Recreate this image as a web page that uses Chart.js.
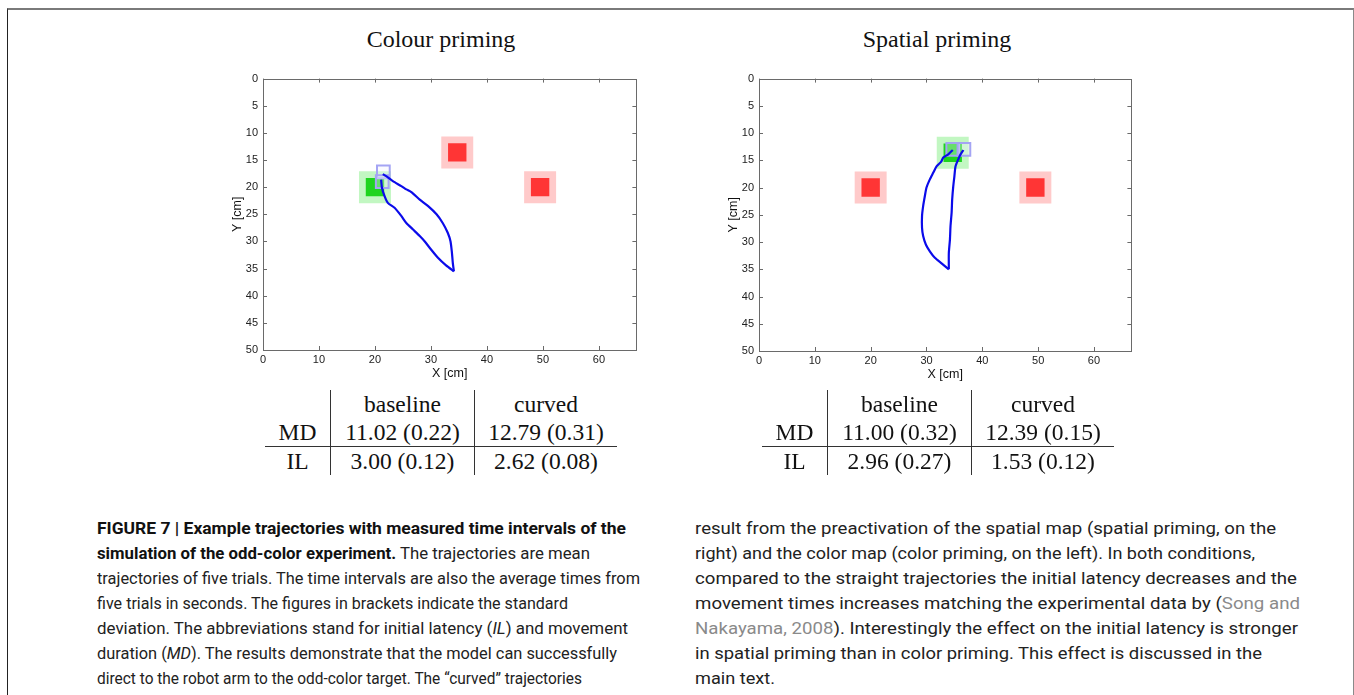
<!DOCTYPE html>
<html>
<head>
<meta charset="utf-8">
<script src="https://cdn.jsdelivr.net/npm/chart.js@4.4.1/dist/chart.umd.min.js"></script>
<style>
  body { margin: 0; width: 1354px; height: 695px; background: #fff; position: relative; overflow: hidden; }
  .frame { position: absolute; left: 7px; top: 8px; width: 1345px; height: 700px;
           border-top: 2px solid #7a7a7a; border-left: 1px solid #222; border-right: 1px solid #8a8a8a; }
  .ptitle { position: absolute; top: 26px; font-family: 'Liberation Serif', serif; font-size: 24px;
            color: #111; transform: translateX(-50%); white-space: nowrap; }
  canvas { position: absolute; }
  table.res { position: absolute; top: 390px; border-collapse: collapse;
              font-family: 'Liberation Serif', serif; font-size: 23.5px; color: #111; }
  table.res td { height: 28px; line-height: 28px; padding: 0; text-align: center; white-space: nowrap; }
  table.res td.sep { border-left: 1px solid #333; }
  table.res tr.il td { border-top: 1px solid #333; }
  .cap { position: absolute; top: 516px; font-family: Roboto, sans-serif; font-size: 16.5px; line-height: 25px;
         color: #222; white-space: nowrap; }
  .cap .ln { display: block; height: 25px; }
  .cap .lw { display: inline-block; transform-origin: 0 0; }
  .cap b { color: #111; }
  .cite { color: #8a8a8a; }
</style>
</head>
<body>
<div class="frame"></div>
<div class="ptitle" style="left:441px">Colour priming</div>
<div class="ptitle" style="left:937px">Spatial priming</div>
<canvas id="cColour"></canvas>
<canvas id="cSpatial"></canvas>
<table class="res" id="tColour" style="left:265px"></table>
<table class="res" id="tSpatial" style="left:762px"></table>
<div class="cap" id="capLeft" style="left:97px"></div>
<div class="cap" id="capRight" style="left:695px"></div>

<script>
// axes
const xTicks = [0, 10, 20, 30, 40, 50, 60];
const yTicks = [0, 5, 10, 15, 20, 25, 30, 35, 40, 45, 50];
const xMax = 66.7;
const yMax = 50;

// targets (same places in both panels, the odd-colour one differs)
const targetX = [20, 34.7, 49.5];
const targetY = [20, 13.6, 20];
const colourOdd = [true, false, false];
const spatialOdd = [false, true, false];

// colour priming trajectories
const colourStartX = [21.5, 21.3];
const colourStartY = [17.2, 19.0];
const colourCurvedX = [21.4, 22.3, 23.2, 24.7, 25.6, 26.5, 28.0, 29.5, 31.0, 32.1, 33.0, 33.5, 33.75, 33.9, 34.1];
const colourCurvedY = [17.6, 18.2, 18.9, 19.8, 20.4, 20.9, 22.3, 23.5, 25.0, 26.6, 28.4, 30.0, 32.1, 33.9, 35.5];
const colourBaseX = [21.1, 21.25, 21.7, 22.3, 23.5, 24.7, 25.6, 26.8, 28.0, 28.9, 29.8, 31.25, 32.7, 34.1];
const colourBaseY = [18.6, 20.1, 21.6, 22.9, 23.8, 25.3, 26.6, 27.8, 29.0, 30.0, 31.2, 33.0, 34.4, 35.5];

// spatial priming trajectories
const spatialStartX = [34.7, 36.7];
const spatialStartY = [13.0, 13.0];
const spatialCurvedX = [34.7, 33.9, 33.0, 32.6, 31.8, 31.2, 30.6, 30.0, 29.7, 29.4, 29.2, 29.2, 29.4, 29.9, 30.6, 31.5, 32.7, 34.0];
const spatialCurvedY = [13.1, 13.9, 14.5, 15.3, 16.1, 17.3, 18.5, 20.0, 21.6, 23.4, 25.2, 27.4, 28.9, 30.5, 31.7, 32.9, 33.9, 35.0];
const spatialBaseX = [36.6, 36.1, 35.7, 35.2, 35.0, 34.8, 34.6, 34.5, 34.3, 34.2, 34.0, 34.0];
const spatialBaseY = [13.1, 13.9, 14.8, 16.1, 17.9, 19.7, 22.2, 24.6, 27.1, 29.5, 32.0, 35.0];

// result tables: mean (sd) in seconds
const rowNames = ['MD', 'IL'];
const colNames = ['baseline', 'curved'];
const colourMD = ['11.02 (0.22)', '12.79 (0.31)'];
const colourIL = ['3.00 (0.12)', '2.62 (0.08)'];
const spatialMD = ['11.00 (0.32)', '12.39 (0.15)'];
const spatialIL = ['2.96 (0.27)', '1.53 (0.12)'];

// caption
const captionLeft = [
  '<b>FIGURE 7 | Example trajectories with measured time intervals of the</b>',
  '<b>simulation of the odd-color experiment.</b> The trajectories are mean',
  'trajectories of five trials. The time intervals are also the average times from',
  'five trials in seconds. The figures in brackets indicate the standard',
  'deviation. The abbreviations stand for initial latency (<i>IL</i>) and movement',
  'duration (<i>MD</i>). The results demonstrate that the model can successfully',
  'direct to the robot arm to the odd-color target. The \u201Ccurved\u201D trajectories'
];
const captionRight = [
  'result from the preactivation of the spatial map (spatial priming, on the',
  'right) and the color map (color priming, on the left). In both conditions,',
  'compared to the straight trajectories the initial latency decreases and the',
  'movement times increases matching the experimental data by (<span class="cite">Song and</span>',
  '<span class="cite">Nakayama, 2008</span>). Interestingly the effect on the initial latency is stronger',
  'in spatial priming than in color priming. This effect is discussed in the',
  'main text.'
];
// rendered line lengths in px (layout)
const capLeftW = [529, 493, 543, 471, 531, 520, 485];
const capRightW = [581, 560, 602, 605, 603, 567, 80];

const BLUE = '#0b0bea';
const AXIS_FONT = { family: "'Liberation Sans', Arial, sans-serif", size: 11 };

// matlab-like box with inward ticks on all four sides
const boxTicks = {
  id: 'boxTicks',
  afterDraw(chart) {
    const { ctx, chartArea: a, scales: { x, y } } = chart;
    ctx.save();
    ctx.strokeStyle = '#6a6a6a';
    ctx.lineWidth = 1;
    ctx.strokeRect(Math.round(a.left) + 0.5, Math.round(a.top) + 0.5,
                   Math.round(a.right - a.left), Math.round(a.bottom - a.top));
    ctx.beginPath();
    xTicks.forEach(v => {
      const px = Math.round(x.getPixelForValue(v)) + 0.5;
      ctx.moveTo(px, a.bottom); ctx.lineTo(px, a.bottom - 4);
      ctx.moveTo(px, a.top); ctx.lineTo(px, a.top + 4);
    });
    yTicks.forEach(v => {
      const py = Math.round(y.getPixelForValue(v)) + 0.5;
      ctx.moveTo(a.left, py); ctx.lineTo(a.left + 4, py);
      ctx.moveTo(a.right, py); ctx.lineTo(a.right - 4, py);
    });
    ctx.stroke();
    ctx.restore();
  }
};

const pts = (xs, ys) => xs.map((x, i) => ({ x, y: ys[i] }));

function trajectoryChart(canvas, p) {
  const line = (xs, ys) => ({
    data: pts(xs, ys), showLine: true, borderColor: BLUE, borderWidth: 2.2,
    pointRadius: 0, tension: 0.2
  });
  return new Chart(canvas, {
    type: 'scatter',
    data: {
      datasets: [
        line(p.curvedX, p.curvedY),
        line(p.baseX, p.baseY),
        {
          data: pts(p.startX, p.startY), pointStyle: 'rect', pointRadius: 9,
          pointBorderColor: '#a4a4f4', pointBorderWidth: 2, pointBackgroundColor: 'rgba(240,240,255,0.35)'
        },
        {
          data: pts(targetX, targetY), pointStyle: 'rect', pointRadius: 13, pointBorderWidth: 0,
          pointBackgroundColor: p.odd.map(o => o ? '#1ed41e' : '#ff3535')
        },
        {
          data: pts(targetX, targetY), pointStyle: 'rect', pointRadius: 22.6, pointBorderWidth: 0,
          pointBackgroundColor: p.odd.map(o => o ? '#c2f7c2' : '#ffcaca')
        }
      ]
    },
    options: {
      responsive: false,
      animation: false,
      events: [],
      layout: { padding: 0 },
      plugins: { legend: { display: false }, tooltip: { enabled: false } },
      scales: {
        x: {
          type: 'linear', min: 0, max: xMax,
          afterBuildTicks: s => { s.ticks = xTicks.map(v => ({ value: v })); },
          afterFit: s => { s.height = 40; },
          grid: { display: false, drawTicks: false },
          border: { display: false },
          ticks: { padding: 3, color: '#222', font: AXIS_FONT, maxRotation: 0, autoSkip: false },
          title: { display: true, text: 'X [cm]', color: '#111',
                   font: { family: AXIS_FONT.family, size: 12.5 }, padding: { top: 0, bottom: 9 } }
        },
        y: {
          type: 'linear', min: 0, max: yMax, reverse: true,
          afterBuildTicks: s => { s.ticks = yTicks.map(v => ({ value: v })); },
          afterFit: s => { s.width = 50; },
          grid: { display: false, drawTicks: false },
          border: { display: false },
          ticks: { padding: 5, color: '#222', font: AXIS_FONT, autoSkip: false },
          title: { display: true, text: 'Y [cm]', color: '#111',
                   font: { family: AXIS_FONT.family, size: 12.5 }, padding: { top: 17, bottom: 0 } }
        }
      }
    },
    plugins: [boxTicks]
  });
}

// build once, measure the plot area, then size and place the canvas so the
// plot box lands where the reference has it
function placeChart(id, p, area) {
  const canvas = document.getElementById(id);
  canvas.width = area.w + 80;
  canvas.height = area.h + 60;
  let chart = trajectoryChart(canvas, p);
  let a = chart.chartArea;
  const W = Math.round(canvas.width + area.w - (a.right - a.left));
  const H = Math.round(canvas.height + area.h - (a.bottom - a.top));
  chart.destroy();
  canvas.width = W;
  canvas.height = H;
  chart = trajectoryChart(canvas, p);
  a = chart.chartArea;
  canvas.style.left = (area.x - a.left) + 'px';
  canvas.style.top = (area.y - a.top) + 'px';
}

function fillTable(id, md, il) {
  const widths = [65, 143, 142];
  const row = (cls, cells) => `<tr class="${cls}">` + cells.map((c, i) =>
    `<td class="${i ? 'sep' : ''}" style="width:${widths[i]}px">${c}</td>`).join('') + '</tr>';
  document.getElementById(id).innerHTML =
    row('hd', [''].concat(colNames)) +
    row('md', [rowNames[0]].concat(md)) +
    row('il', [rowNames[1]].concat(il));
}

function fillCaption(id, lines, widths) {
  const el = document.getElementById(id);
  el.innerHTML = lines.map(l => `<div class="ln"><span class="lw">${l}</span></div>`).join('');
  el.querySelectorAll('.lw').forEach((s, i) => {
    const w = s.getBoundingClientRect().width;
    s.style.transform = `scaleX(${widths[i] / w})`;
  });
}

placeChart('cColour', {
  curvedX: colourCurvedX, curvedY: colourCurvedY, baseX: colourBaseX, baseY: colourBaseY,
  startX: colourStartX, startY: colourStartY, odd: colourOdd
}, { x: 263, y: 79, w: 373, h: 271 });
placeChart('cSpatial', {
  curvedX: spatialCurvedX, curvedY: spatialCurvedY, baseX: spatialBaseX, baseY: spatialBaseY,
  startX: spatialStartX, startY: spatialStartY, odd: spatialOdd
}, { x: 759, y: 79, w: 372, h: 272 });
fillTable('tColour', colourMD, colourIL);
fillTable('tSpatial', spatialMD, spatialIL);
fillCaption('capLeft', captionLeft, capLeftW);
fillCaption('capRight', captionRight, capRightW);
</script>
</body>
</html>
